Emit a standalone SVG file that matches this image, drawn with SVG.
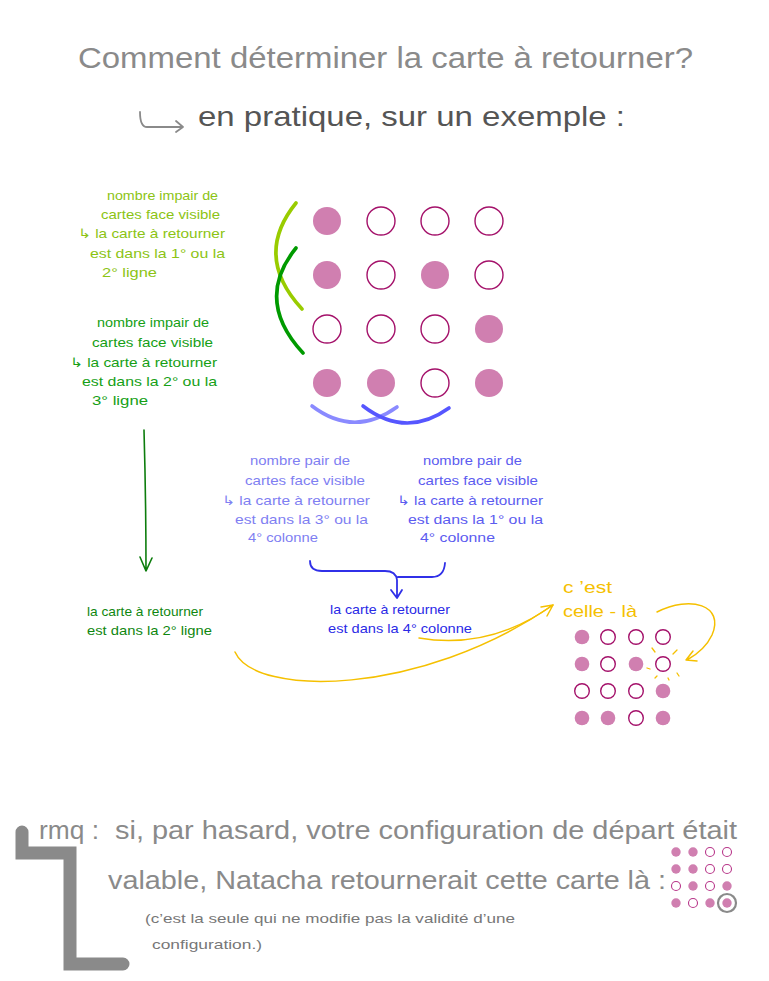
<svg xmlns="http://www.w3.org/2000/svg" width="769" height="981" viewBox="0 0 769 981">
<style>
text{font-family:"Liberation Sans","DejaVu Sans",sans-serif}
.s{font-size:13px}
.lg{fill:#8cc414}.dg{fill:#16a016}.lb{fill:#7f7ff2}.mb{fill:#5c5cf0}.rg{fill:#0f870f}.rb{fill:#2a2ae6}.y{fill:#f5c000}
.f{fill:#d07fb0}
.o{fill:#fff;stroke:#a4116a;stroke-width:1.4}
.fs{fill:#d07fb0}
.os{fill:#fff;stroke:#b8378a;stroke-width:1.1}
.arc{fill:none;stroke-width:3.6;stroke-linecap:round}
.ln{fill:none;stroke-linecap:round;stroke-linejoin:round}
</style>
<rect width="769" height="981" fill="#fff"/>
<g id="title">
<text x="78" y="68" font-size="30" fill="#8a8a8a" textLength="615" lengthAdjust="spacingAndGlyphs">Comment déterminer la carte à retourner?</text>
<path class="ln" d="M140,112 Q140,127 147,127 L182,127 M176,121 L183,127 L176,132" stroke="#8a8a8a" stroke-width="1.8"/>
<text x="198" y="126" font-size="28" fill="#555" textLength="427" lengthAdjust="spacingAndGlyphs">en pratique, sur un exemple :</text>
</g>
<g id="grid">
<circle class="f" cx="327" cy="221" r="14"/><circle class="o" cx="381" cy="221" r="14"/><circle class="o" cx="435" cy="221" r="14"/><circle class="o" cx="489" cy="221" r="14"/>
<circle class="f" cx="327" cy="275" r="14"/><circle class="o" cx="381" cy="275" r="14"/><circle class="f" cx="435" cy="275" r="14"/><circle class="o" cx="489" cy="275" r="14"/>
<circle class="o" cx="327" cy="329" r="14"/><circle class="o" cx="381" cy="329" r="14"/><circle class="o" cx="435" cy="329" r="14"/><circle class="f" cx="489" cy="329" r="14"/>
<circle class="f" cx="327" cy="383" r="14"/><circle class="f" cx="381" cy="383" r="14"/><circle class="o" cx="435" cy="383" r="14"/><circle class="f" cx="489" cy="383" r="14"/>
</g>
<g id="arcs">
<path class="arc" d="M296,203 Q253,256 302,309" stroke="#99cc00"/>
<path class="arc" d="M296,248 Q254,300 303,353" stroke="#009a00"/>
<path class="arc" d="M312,406 Q354,438 397,407" stroke="#8a8aff"/>
<path class="arc" d="M363,406 Q406,439 449,408" stroke="#5656ff"/>
</g>
<g id="note-rows12" class="s lg">
<text x="107" y="200" textLength="111" lengthAdjust="spacingAndGlyphs">nombre impair de</text>
<text x="101" y="219" textLength="119" lengthAdjust="spacingAndGlyphs">cartes face visible</text>
<text x="78" y="238" textLength="147" lengthAdjust="spacingAndGlyphs">↳ la carte à retourner</text>
<text x="90" y="258" textLength="135" lengthAdjust="spacingAndGlyphs">est  dans la 1° ou la</text>
<text x="102" y="277" textLength="55" lengthAdjust="spacingAndGlyphs">2° ligne</text>
</g>
<g id="note-rows23" class="s dg">
<text x="97" y="327" textLength="112" lengthAdjust="spacingAndGlyphs">nombre impair de</text>
<text x="92" y="347" textLength="121" lengthAdjust="spacingAndGlyphs">cartes face visible</text>
<text x="70" y="367" textLength="147" lengthAdjust="spacingAndGlyphs">↳ la carte à retourner</text>
<text x="82" y="386" textLength="135" lengthAdjust="spacingAndGlyphs">est  dans la 2° ou la</text>
<text x="92" y="405" textLength="56" lengthAdjust="spacingAndGlyphs">3° ligne</text>
</g>
<g id="note-cols34" class="s lb">
<text x="250" y="465" textLength="100" lengthAdjust="spacingAndGlyphs">nombre pair de</text>
<text x="245" y="485" textLength="120" lengthAdjust="spacingAndGlyphs">cartes face visible</text>
<text x="222" y="505" textLength="148" lengthAdjust="spacingAndGlyphs">↳ la carte à retourner</text>
<text x="235" y="524" textLength="133" lengthAdjust="spacingAndGlyphs">est  dans la 3° ou la</text>
<text x="248" y="542" textLength="70" lengthAdjust="spacingAndGlyphs">4° colonne</text>
</g>
<g id="note-cols14" class="s mb">
<text x="423" y="465" textLength="99" lengthAdjust="spacingAndGlyphs">nombre pair de</text>
<text x="418" y="485" textLength="120" lengthAdjust="spacingAndGlyphs">cartes face visible</text>
<text x="397" y="505" textLength="146" lengthAdjust="spacingAndGlyphs">↳ la carte à retourner</text>
<text x="408" y="524" textLength="135" lengthAdjust="spacingAndGlyphs">est  dans la 1° ou la</text>
<text x="420" y="542" textLength="75" lengthAdjust="spacingAndGlyphs">4° colonne</text>
</g>
<g id="result-row" class="s rg">
<text x="87" y="616" textLength="116" lengthAdjust="spacingAndGlyphs">la carte à retourner</text>
<text x="87" y="635" textLength="125" lengthAdjust="spacingAndGlyphs">est dans la 2° ligne</text>
</g>
<g id="result-col" class="s rb">
<text x="330" y="614" textLength="120" lengthAdjust="spacingAndGlyphs">la carte à retourner</text>
<text x="328" y="633" textLength="144" lengthAdjust="spacingAndGlyphs">est dans la 4° colonne</text>
</g>
<g id="cest-celle-la" class="y" font-size="17">
<text x="563" y="593" textLength="49" lengthAdjust="spacingAndGlyphs">c ’est</text>
<text x="563" y="617" textLength="74" lengthAdjust="spacingAndGlyphs">celle - là</text>
</g>
<g id="small-grid">
<circle class="f" cx="582" cy="637" r="7.3"/><circle class="o" cx="608" cy="637" r="7.3"/><circle class="o" cx="636" cy="637" r="7.3"/><circle class="o" cx="663" cy="637" r="7.3"/>
<circle class="f" cx="582" cy="664" r="7.3"/><circle class="o" cx="608" cy="664" r="7.3"/><circle class="f" cx="636" cy="664" r="7.3"/><circle class="o" cx="663" cy="664" r="7.3"/>
<circle class="o" cx="582" cy="691" r="7.3"/><circle class="o" cx="608" cy="691" r="7.3"/><circle class="o" cx="636" cy="691" r="7.3"/><circle class="f" cx="663" cy="691" r="7.3"/>
<circle class="f" cx="582" cy="718" r="7.3"/><circle class="f" cx="608" cy="718" r="7.3"/><circle class="o" cx="636" cy="718" r="7.3"/><circle class="f" cx="663" cy="718" r="7.3"/>
<path class="ln" stroke="#f5c000" stroke-width="1.3" d="M652,648 L655,652 M677,650 L673,654 M647,668 L650,669 M655,678 L657,676 M668,678 L669,680 M677,673 L679,676"/>
</g>
<g id="connectors" class="ln">
<path d="M144,430 Q146,500 146,571 M140,557 L146,571 L152,558" stroke="#0d7d0d" stroke-width="1.6"/>
<path d="M310,561 Q310,571 322,571 L385,571 Q396,571 397,580 L397,597 M445,563 Q444,577 432,577 L398,577 M391,590 L397,598 L402,590" stroke="#3030e8" stroke-width="1.8"/>
<path d="M419,638 Q490,650 553,605" stroke="#f5c000" stroke-width="1.5"/>
<path d="M235,652 C255,697 420,697 553,605 M541,607 L553,605 L547,616" stroke="#f5c000" stroke-width="1.5"/>
<path d="M657,612 C690,595 725,605 712,635 Q705,650 687,660 M693,651 L686,660 L697,661" stroke="#f5c000" stroke-width="1.5"/>
</g>
<g id="remark">
<path d="M22,832 L22,853 L70,853 L70,964 L123,964" fill="none" stroke="#8a8a8a" stroke-width="13" stroke-linecap="round" stroke-linejoin="miter"/>
<text x="39" y="839" font-size="26" fill="#8a8a8a" textLength="60" lengthAdjust="spacingAndGlyphs">rmq :</text>
<text x="115" y="839" font-size="26" fill="#8a8a8a" textLength="622" lengthAdjust="spacingAndGlyphs">si, par hasard, votre configuration de départ était</text>
<text x="108" y="889" font-size="26" fill="#8a8a8a" textLength="558" lengthAdjust="spacingAndGlyphs">valable, Natacha retournerait cette carte là :</text>
<text x="145" y="923" font-size="13" fill="#777" textLength="370" lengthAdjust="spacingAndGlyphs">(c’est la seule qui ne modifie pas la validité d’une</text>
<text x="152" y="949" font-size="13" fill="#777" textLength="110" lengthAdjust="spacingAndGlyphs">configuration.)</text>
</g>
<g id="remark-grid">
<circle class="fs" cx="676" cy="852" r="4.7"/><circle class="fs" cx="693" cy="852" r="4.7"/><circle class="os" cx="710" cy="852" r="4.5"/><circle class="os" cx="727" cy="852" r="4.5"/>
<circle class="fs" cx="676" cy="869" r="4.7"/><circle class="fs" cx="693" cy="869" r="4.7"/><circle class="os" cx="710" cy="869" r="4.5"/><circle class="os" cx="727" cy="869" r="4.5"/>
<circle class="os" cx="676" cy="886" r="4.5"/><circle class="fs" cx="693" cy="886" r="4.7"/><circle class="os" cx="710" cy="886" r="4.5"/><circle class="fs" cx="727" cy="886" r="4.7"/>
<circle class="fs" cx="676" cy="903" r="4.7"/><circle class="os" cx="693" cy="903" r="4.5"/><circle class="fs" cx="710" cy="903" r="4.7"/><circle class="fs" cx="727" cy="903" r="4.7"/>
<circle cx="727" cy="903" r="9" fill="none" stroke="#8a8a8a" stroke-width="2.2"/>
</g>
</svg>
